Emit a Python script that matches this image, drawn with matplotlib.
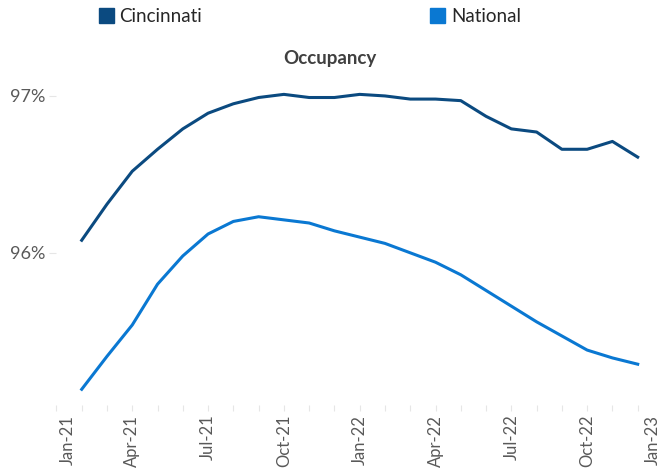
import matplotlib.pyplot as plt
from matplotlib.patches import Patch

# month index: 0 = Jan-21 ... 24 = Jan-23, data runs Feb-21 to Dec-22
months = list(range(1, 24))
tick_labels = ["Jan-21", "Apr-21", "Jul-21", "Oct-21", "Jan-22",
               "Apr-22", "Jul-22", "Oct-22", "Jan-23"]
tick_pos = [0, 3, 6, 9, 12, 15, 18, 21, 24]

cincinnati = [96.08, 96.31, 96.52, 96.66, 96.79, 96.89, 96.95, 96.99, 97.01,
              96.99, 96.99, 97.01, 97.00, 96.98, 96.98, 96.97, 96.87, 96.79,
              96.77, 96.66, 96.66, 96.71, 96.61]
national = [95.13, 95.34, 95.54, 95.80, 95.98, 96.12, 96.20, 96.23, 96.21,
            96.19, 96.14, 96.10, 96.06, 96.00, 95.94, 95.86, 95.76, 95.66,
            95.56, 95.47, 95.38, 95.33, 95.29]

c_cin = "#0B4A80"
c_nat = "#0A78D2"
grey = "#595959"
font = "Lato"

fig = plt.figure(figsize=(6.6, 4.73), dpi=100)
ax = fig.add_axes([0.0855, 0.1438, 0.919, 0.7197])

ax.plot(months, cincinnati, color=c_cin, lw=2.2, solid_joinstyle="round")
ax.plot(months, national, color=c_nat, lw=2.2, solid_joinstyle="round")

ax.set_xlim(0, 24)
ax.set_ylim(95.03, 97.2)
for s in ax.spines.values():
    s.set_visible(False)

ax.set_yticks([96, 97])
ax.set_yticklabels(["96%", "97%"], fontname=font, fontsize=13, color=grey)
ax.tick_params(axis="y", length=5, color="#e6e6e6", pad=3)

ax.set_xticks(range(0, 25))
ax.set_xticklabels([])
ax.tick_params(axis="x", length=4, color="#e6e6e6")

# rotated date labels; the edge ones are nudged inside like the original
for pos, lab in zip(tick_pos, tick_labels):
    dx = 0
    if pos == 0:
        dx = 8
    elif pos == 24:
        dx = -7
    ax.annotate(lab, xy=(pos, 0), xycoords=("data", "axes fraction"),
                xytext=(dx, -7), textcoords="offset points",
                rotation=90, ha="center", va="top",
                fontname=font, fontsize=12, color=grey, annotation_clip=False)

fig.text(0.5, 0.877, "Occupancy", ha="center", va="center",
         fontname=font, fontsize=13.5, fontweight="bold", color="#404040")

handles = [Patch(color=c_cin, label="Cincinnati"),
           Patch(color=c_nat, label="National")]
fig.legend(handles=handles, loc="center", bbox_to_anchor=(0.4695, 0.965),
           ncol=2, frameon=False, prop={"family": font, "size": 13.5},
           handlelength=0.8, handleheight=0.85, handletextpad=0.3,
           columnspacing=12.15, labelcolor="#262626")

fig.savefig("out.png", dpi=100)
